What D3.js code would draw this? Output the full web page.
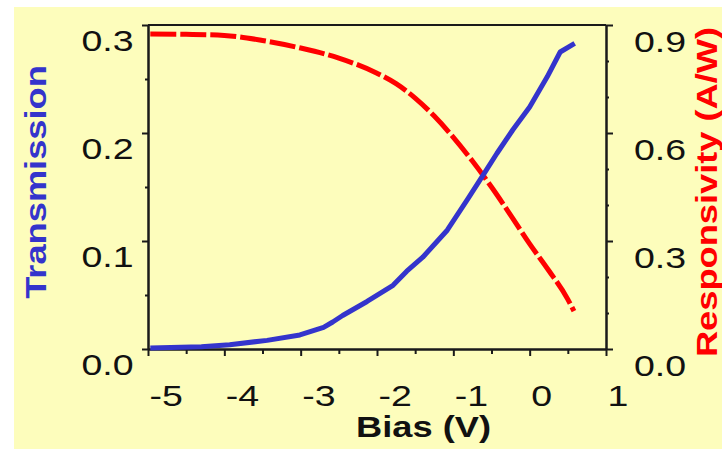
<!DOCTYPE html>
<html><head><meta charset="utf-8">
<script src="https://cdn.jsdelivr.net/npm/d3@7"></script>
<style>html,body{margin:0;padding:0;background:#fff;} svg{display:block;}</style>
</head><body>
<svg id="chart" width="722" height="449"></svg>
<script>
// ---- data ----
const biasT = [-4.97, -4.3, -3.93, -3.44, -3.01, -2.7, -2.58, -2.45, -2.13, -1.79, -1.61, -1.40, -1.08, -0.81, -0.61, -0.43, -0.22, 0.0, 0.23, 0.40, 0.59];
const transmission = [0.001, 0.002, 0.004, 0.008, 0.013, 0.020, 0.025, 0.031, 0.044, 0.059, 0.072, 0.085, 0.110, 0.139, 0.161, 0.181, 0.203, 0.224, 0.252, 0.275, 0.283];
const biasR = [-4.97, -4.5, -4.0, -3.5, -3.0, -2.5, -2.0, -1.75, -1.5, -1.25, -1.0, -0.75, -0.5, -0.25, 0.0, 0.25, 0.5, 0.58];
const responsivity = [0.875, 0.874, 0.871, 0.857, 0.836, 0.808, 0.766, 0.737, 0.697, 0.647, 0.588, 0.522, 0.450, 0.372, 0.292, 0.218, 0.138, 0.105];
const xMajorTicks = [-5, -4, -3, -2, -1, 0, 1];
const xMinorTicks = [-4.5, -3.5, -2.5, -1.5, -0.5, 0.5];
const yLeftMajor = [0, 0.1, 0.2, 0.3];
const yLeftMinor = [0.05, 0.15, 0.25];
const yRightMajor = [0, 0.3, 0.6, 0.9];
const yRightMinor = [0.1, 0.2, 0.4, 0.5, 0.7, 0.8];
const xTitle = "Bias (V)";
const yLeftTitle = "Transmission";
const yRightTitle = "Responsivity (A/W)";

// ---- layout ----
const L = 148, R = 606, T = 25, B = 349;
const blue = "#3434cc", red = "#ff0000", bg = "#fdfdbc", ink = "#1a1a1a";
const FONT = "'Liberation Sans', Arial, Helvetica, sans-serif";
const SX = 1.25;

const svg = d3.select("#chart");
svg.append("rect").attr("x", 14).attr("y", 7).attr("width", 722 - 14).attr("height", 449 - 7).attr("fill", bg);

const x = d3.scaleLinear().domain([-5, 1]).range([L, R]);
const yL = d3.scaleLinear().domain([0, 0.3]).range([B, T]);
const yR = d3.scaleLinear().domain([0, 0.9]).range([B, T]);

function styleAxis(g) {
  g.selectAll("path.domain").attr("stroke", ink).attr("stroke-width", 2);
  g.selectAll(".tick line").attr("stroke", ink).attr("stroke-width", 2);
  g.selectAll(".tick text").remove();
}

// minor + major axes
svg.append("g").attr("transform", `translate(0,${B})`)
  .call(d3.axisBottom(x).tickValues(xMinorTicks).tickSize(5).tickSizeOuter(0).tickFormat("")).call(styleAxis);
svg.append("g").attr("transform", `translate(0,${B})`)
  .call(d3.axisBottom(x).tickValues(xMajorTicks).tickSize(7).tickSizeOuter(0).tickFormat("")).call(styleAxis);
svg.append("g").attr("transform", `translate(${L},0)`)
  .call(d3.axisLeft(yL).tickValues(yLeftMinor).tickSize(3).tickSizeOuter(0).tickFormat("")).call(styleAxis);
svg.append("g").attr("transform", `translate(${L},0)`)
  .call(d3.axisLeft(yL).tickValues(yLeftMajor).tickSize(6).tickSizeOuter(0).tickFormat("")).call(styleAxis);
svg.append("g").attr("transform", `translate(${R},0)`)
  .call(d3.axisRight(yR).tickValues(yRightMinor).tickSize(3).tickSizeOuter(0).tickFormat("")).call(styleAxis);
svg.append("g").attr("transform", `translate(${R},0)`)
  .call(d3.axisRight(yR).tickValues(yRightMajor).tickSize(7).tickSizeOuter(0).tickFormat("")).call(styleAxis);
// top frame
svg.append("line").attr("x1", L).attr("x2", R).attr("y1", T).attr("y2", T).attr("stroke", ink).attr("stroke-width", 2);

// tick labels
const lab = svg.append("g").attr("font-family", FONT).attr("font-size", 30).attr("fill", "#111");
lab.selectAll("text.xl").data(xMajorTicks).join("text").attr("class", "xl")
  .attr("text-anchor", "start")
  .attr("transform", d => `translate(${x(d) + 1.5},406) scale(${SX},1)`)
  .text(d => String(d));
lab.selectAll("text.yl").data(yLeftMajor).join("text").attr("class", "yl")
  .attr("text-anchor", "end")
  .attr("transform", d => `translate(133.5,${yL(d) + 25.5}) scale(${SX},1)`)
  .text(d => d3.format(".1f")(d));
lab.selectAll("text.yr").data(yRightMajor).join("text").attr("class", "yr")
  .attr("text-anchor", "start")
  .attr("transform", d => `translate(634,${yR(d) + 27}) scale(${SX},1)`)
  .text(d => d3.format(".1f")(d));

// titles
const tt = svg.append("g").attr("font-family", FONT).attr("font-size", 29).attr("font-weight", "bold");
tt.append("text").attr("text-anchor", "middle").attr("fill", "#111")
  .attr("transform", `translate(423.5,437) scale(${SX},1)`).text(xTitle);
tt.append("text").attr("text-anchor", "middle").attr("fill", blue)
  .attr("transform", `translate(46,182) rotate(-90) scale(${SX},1)`).text(yLeftTitle);
tt.append("text").attr("text-anchor", "middle").attr("fill", red)
  .attr("transform", `translate(717,192) rotate(-90) scale(${SX},1)`).text(yRightTitle);

// series
const tData = biasT.map((b, i) => [b, transmission[i]]);
const rData = biasR.map((b, i) => [b, responsivity[i]]);
svg.append("path").datum(rData)
  .attr("d", d3.line().x(d => x(d[0])).y(d => yR(d[1])).curve(d3.curveMonotoneX))
  .attr("fill", "none").attr("stroke", red).attr("stroke-width", 5).attr("stroke-dasharray", "26,4");
svg.append("path").datum(tData)
  .attr("d", d3.line().x(d => x(d[0])).y(d => yL(d[1])))
  .attr("fill", "none").attr("stroke", blue).attr("stroke-width", 5).attr("stroke-linejoin", "round");
</script>
</body></html>
